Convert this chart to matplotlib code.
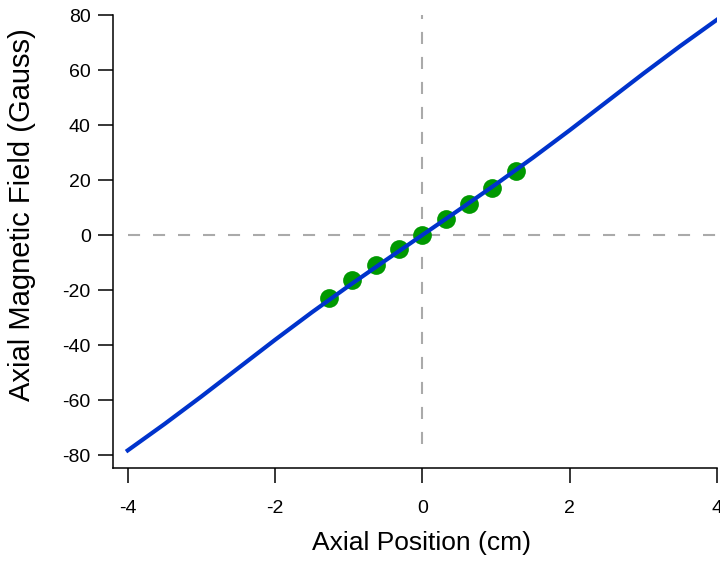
import numpy as np
import matplotlib
matplotlib.use("Agg")
import matplotlib.pyplot as plt

plt.rcParams['font.family'] = ['Liberation Sans', 'DejaVu Sans']

# calculated field along the axis (G) vs. position (cm)
curve_x = np.array([-4, -3.5, -3, -2.5, -2, -1.5, -1, -0.5, 0,
                    0.5, 1, 1.5, 2, 2.5, 3, 3.5, 4])
curve_y = np.array([-78.3, -68.7, -58.7, -48.4, -38.1, -28.1, -18.5, -9.2, 0,
                    9.2, 18.5, 28.1, 38.1, 48.4, 58.7, 68.7, 78.3])

# measured points
meas_x = np.array([-1.272, -0.958, -0.633, -0.316, 0, 0.318, 0.630, 0.950, 1.272])
meas_y = np.array([-22.8, -16.4, -10.8, -5.1, 0, 5.7, 11.4, 17.2, 23.3])

x_ticks = [-4, -2, 0, 2, 4]
y_ticks = [-80, -60, -40, -20, 0, 20, 40, 60, 80]

fig = plt.figure(figsize=(7.2, 5.61), dpi=100)
ax = fig.add_axes([113/720, 1 - 468/561, 604/720, 453/561])

ax.plot([-4, 4], [0, 0], color='#aaaaaa', lw=1.5, dashes=[5.8, 6.2], zorder=1)
ax.plot([0, 0], [-76, 80], color='#aaaaaa', lw=1.5, dashes=[5.8, 6.2], zorder=1)

ax.plot(meas_x, meas_y, 'o', color='#009900', ms=13.5, mec='none', zorder=2)
ax.plot(curve_x, curve_y, color='#0033cc', lw=3.0, zorder=3)

ax.set_xlim(-4.2, 4)
ax.set_ylim(-84.7, 80)
ax.set_xticks(x_ticks)
ax.set_yticks(y_ticks)
ax.set_xticklabels([str(t) for t in x_ticks])
ax.set_yticklabels([str(t) for t in y_ticks])

for s in ['top', 'right']:
    ax.spines[s].set_visible(False)
for s in ['left', 'bottom']:
    ax.spines[s].set_linewidth(1.1)

ax.tick_params(axis='both', direction='out', length=11, width=1.1, labelsize=14)
ax.tick_params(axis='x', pad=12)
ax.tick_params(axis='y', pad=5)

ax.set_xlabel('Axial Position (cm)', fontsize=19)
ax.xaxis.set_label_coords((422 - 113) / 604, (468 - 543) / 453)
ax.xaxis.label.set_va('center')
ax.set_ylabel('Axial Magnetic Field (Gauss)', fontsize=21)
ax.yaxis.set_label_coords((22 - 113) / 604, 0.56)
ax.yaxis.label.set_va('center')

fig.savefig('out.png', dpi=100)
